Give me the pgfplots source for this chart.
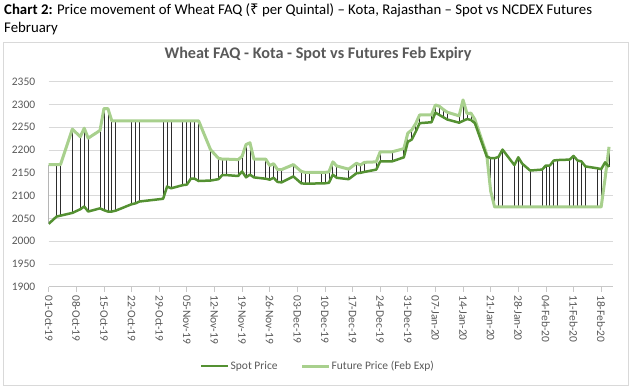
\documentclass[border=0pt]{standalone}
\usepackage{fontspec}
\setmainfont{Carlito}
\newfontfamily\rupeefont{Noto Sans}
\usepackage{pgfplots}
\usepackage{pgfplotstable}
\pgfplotsset{compat=1.18}
\definecolor{spotc}{RGB}{84,145,50}
\definecolor{futc}{RGB}{168,208,141}
\definecolor{gridc}{RGB}{217,217,217}
\definecolor{axisc}{RGB}{200,200,200}
\definecolor{txtc}{RGB}{89,89,89}
\definecolor{hlc}{RGB}{45,45,45}
\pgfplotstableread{
d s f
0 2038 2168
2 2054 2168
3 2056 2168
6 2062 2246
8 2070 2229
9 2076 2248
10 2065 2226
13 2072 2243
14 2068 2291
15 2065 2291
16 2065 2264
17 2067 2264
21 2081 2264
22 2083 2264
23 2087 2264
29 2093 2264
30 2120 2264
31 2116 2264
34 2123 2264
35 2124 2264
36 2137 2264
37 2137 2264
38 2132 2264
41 2133 2201
43 2136 2182
44 2145 2180
45 2145 2180
48 2143 2179
49 2153 2186
50 2140 2212
51 2146 2216
52 2140 2180
55 2137 2180
56 2135 2166
57 2139 2170
58 2130 2157
59 2129 2157
62 2142 2168
64 2127 2153
65 2126 2151
66 2126 2151
69 2127 2151
70 2127 2151
71 2128 2152
72 2146 2174
73 2139 2165
76 2136 2158
78 2149 2171
79 2150 2167
80 2152 2173
83 2157 2174
84 2175 2196
87 2175 2196
90 2184 2203
91 2218 2237
92 2223 2244
93 2240 2258
94 2259 2277
97 2261 2277
98 2282 2299
99 2277 2296
100 2272 2289
101 2267 2283
104 2260 2275
105 2264 2310
106 2268 2280
107 2266 2281
108 2259 2267
111 2186 2190
112 2182 2110
113 2182 2075
114 2185 2075
115 2201 2075
118 2167 2075
119 2184 2075
120 2170 2075
122 2155 2075
125 2157 2075
126 2166 2075
127 2166 2075
128 2177 2075
129 2178 2075
132 2179 2075
133 2187 2075
134 2177 2075
135 2175 2075
136 2164 2075
139 2160 2075
140 2158 2075
141 2173 2138
142 2163 2207
}\data
\begin{document}
\begin{tikzpicture}
\useasboundingbox (0,0) rectangle (633bp,390bp);
\node[anchor=base west, inner sep=0, font=\fontsize{14.8bp}{17bp}\selectfont] at (4bp,375.5bp) {\textbf{Chart 2:} Price movement of Wheat FAQ ({\rupeefont ₹} per Quintal) – Kota, Rajasthan – Spot vs NCDEX Futures};
\node[anchor=base west, inner sep=0, font=\fontsize{14.8bp}{17bp}\selectfont] at (4bp,357bp) {February};
\draw[gridc, line width=0.75bp] (3.5bp,4.5bp) rectangle (628.5bp,347.5bp);
\node[anchor=base, inner sep=0, font=\fontsize{16.2bp}{18bp}\selectfont\bfseries, text=txtc] at (318bp,331bp) {Wheat FAQ - Kota - Spot vs Futures Feb Expiry};
\begin{axis}[
  at={(48.7bp,103.3bp)}, anchor=south west,
  scale only axis, width=564.3bp, height=205bp,
  xmin=0, xmax=143, ymin=1900, ymax=2350,
  xtick={0,7,...,140},
  xticklabels={01-Oct-19,08-Oct-19,15-Oct-19,22-Oct-19,29-Oct-19,05-Nov-19,12-Nov-19,19-Nov-19,26-Nov-19,03-Dec-19,10-Dec-19,17-Dec-19,24-Dec-19,31-Dec-19,07-Jan-20,14-Jan-20,21-Jan-20,28-Jan-20,04-Feb-20,11-Feb-20,18-Feb-20},
  ytick={1900,1950,...,2350},
  ymajorgrids, grid style={gridc, line width=0.75bp},
  axis x line*=bottom, axis y line*=left,
  axis line style={-},
  x axis line style={draw=axisc, line width=0.75bp},
  y axis line style={draw=none},
  xtick style={draw=axisc, line width=0.75bp},
  ytick style={draw=none},
  tick align=outside, major tick length=5bp,
  tick label style={font=\fontsize{11.5bp}{13bp}\selectfont, text=txtc},
  xticklabel style={rotate=-90, anchor=west},
  yticklabel style={xshift=-5bp},
  /pgf/number format/assume math mode=true,
  /pgf/number format/1000 sep={},
  legend style={at={(0.268,-0.387)}, anchor=west, draw=none, fill=none, inner sep=0pt,
    legend columns=2, font=\fontsize{11.5bp}{13bp}\selectfont, text=txtc,
    nodes={font=\fontsize{11.5bp}{13bp}\selectfont, inner xsep=1bp},
    /tikz/every even column/.append style={column sep=22bp}},
  legend image code/.code={\draw[#1] (0bp,0bp) -- (27bp,0bp);},
]
\addplot[forget plot, draw=none, mark=none,
  error bars/.cd, y dir=both, y explicit, error mark=none,
  error bar style={draw=hlc, line width=0.75bp, solid}]
  table[x=d, y=s, y error plus expr={max(\thisrow{f}-\thisrow{s},0)}, y error minus expr={max(\thisrow{s}-\thisrow{f},0)}] {\data};
\addplot[forget plot, futc, line width=3bp, line join=round, mark=none] table[x=d, y=f] {\data};
\addplot[spotc, line width=2.5bp, line join=round, mark=none] table[x=d, y=s] {\data};
\addlegendentry{Spot Price}
\addlegendimage{futc, line width=3bp}
\addlegendentry{Future Price (Feb Exp)}
\end{axis}
\end{tikzpicture}
\end{document}
